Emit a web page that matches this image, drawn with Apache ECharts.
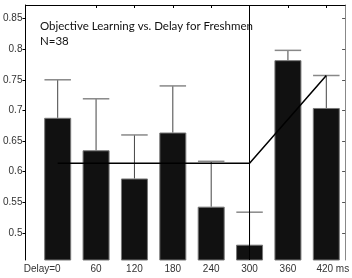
<!DOCTYPE html>
<html>
<head>
<meta charset="utf-8">
<script src="https://cdn.jsdelivr.net/npm/echarts@6/dist/echarts.min.js"></script>
<style>
  html, body { margin: 0; padding: 0; background: #fff; }
  #chart { width: 352px; height: 278px; }
</style>
</head>
<body>
<div id="chart"></div>
<script>
// delays (ms) shown under each bar
const delays = ['0', '60', '120', '180', '240', '300', '360', '420'];
// mean objective learning per delay
const means = [0.688, 0.635, 0.589, 0.664, 0.543, 0.481, 0.782, 0.704];
// upper end of each error bar
const errTop = [0.750, 0.719, 0.660, 0.740, 0.617, 0.534, 0.798, 0.757];
// fitted line: flat then rising after 300 ms
const fitX = [0, 5, 7];
const fitY = [0.614, 0.614, 0.757];
// y tick labels
const yTicks = [0.5, 0.55, 0.6, 0.65, 0.7, 0.75, 0.8, 0.85];
const breakAt = 5;

const xIdx = delays.map((d, i) => i);
const barData = means.map((v, i) => [i, v]);
const errData = means.map((v, i) => [i, v, errTop[i]]);
const fitData = fitX.map((x, i) => [x, fitY[i]]);

const labelFont = { fontFamily: 'Liberation Sans', fontSize: 10, color: '#333' };

const chart = echarts.init(document.getElementById('chart'));
chart.setOption({
  animation: false,
  title: {
    text: 'Objective Learning vs. Delay for Freshmen\nN=38',
    left: 35, top: 14,
    textStyle: { fontFamily: 'Lato', fontSize: 11.5, fontWeight: 'normal', color: '#111', lineHeight: 15 }
  },
  grid: { left: 22, right: 5, top: 5, bottom: 18 },
  xAxis: [
    {
      type: 'value', min: -0.84, max: 7.49, position: 'bottom',
      splitLine: { show: false },
      axisLine: { show: false },
      axisTick: { show: false },
      axisLabel: {
        margin: 4, customValues: xIdx,
        formatter: v => {
          const i = Math.round(v);
          if (i === 0) return '{a|Delay=' + delays[i] + '}';
          if (i === delays.length - 1) return '{b|' + delays[i] + ' ms}';
          return delays[i];
        },
        rich: {
          a: Object.assign({ padding: [0, 31, 0, 0] }, labelFont),
          b: Object.assign({ padding: [0, 0, 0, 13] }, labelFont)
        },
        ...labelFont
      }
    },
    {
      type: 'value', min: -0.84, max: 7.49, position: 'top',
      splitLine: { show: false },
      axisLine: { show: true, onZero: false, lineStyle: { color: '#000', width: 1 } },
      axisTick: { show: true, inside: true, length: 3, customValues: [1, 2, 3, 4, 5, 6, 7], lineStyle: { color: '#000' } },
      axisLabel: { show: false }
    }
  ],
  yAxis: [
    {
      type: 'value', min: 0.456, max: 0.872, position: 'left',
      splitLine: { show: false },
      axisLine: { show: true, onZero: false, lineStyle: { color: '#000', width: 1 } },
      axisTick: { show: true, length: 3, customValues: yTicks, lineStyle: { color: '#000' } },
      axisLabel: { margin: 3, customValues: yTicks, formatter: v => String(+v.toFixed(2)), ...labelFont }
    },
    {
      type: 'value', min: 0.456, max: 0.872, position: 'right',
      splitLine: { show: false },
      axisLine: { show: true, onZero: false, lineStyle: { color: '#888', width: 1 } },
      axisTick: { show: true, inside: true, length: 3, customValues: yTicks, lineStyle: { color: '#555' } },
      axisLabel: { show: false }
    }
  ],
  series: [
    {
      type: 'bar',
      data: barData,
      barWidth: 27,
      itemStyle: { color: '#111', borderColor: '#777', borderWidth: 1 },
      z: 2
    },
    {
      type: 'custom',
      data: errData,
      z: 3,
      renderItem: (params, api) => {
        const x = api.value(0);
        const base = api.coord([x, api.value(1)]);
        const top = api.coord([x, api.value(2)]);
        const half = api.size([0.69, 0])[0] / 2;
        return {
          type: 'group',
          children: [
            { type: 'line', shape: { x1: top[0], y1: top[1], x2: base[0], y2: base[1] },
              style: { stroke: '#444', lineWidth: 1 } },
            { type: 'line', shape: { x1: top[0] - half, y1: top[1], x2: top[0] + half, y2: top[1] },
              style: { stroke: '#888', lineWidth: 1.5 } }
          ]
        };
      }
    },
    {
      type: 'line',
      data: fitData,
      symbol: 'none',
      lineStyle: { color: '#000', width: 1.5 },
      z: 4,
      markLine: {
        silent: true, symbol: 'none', label: { show: false },
        lineStyle: { color: '#000', width: 1, type: 'solid' },
        data: [{ xAxis: breakAt }]
      }
    }
  ]
});
</script>
</body>
</html>
